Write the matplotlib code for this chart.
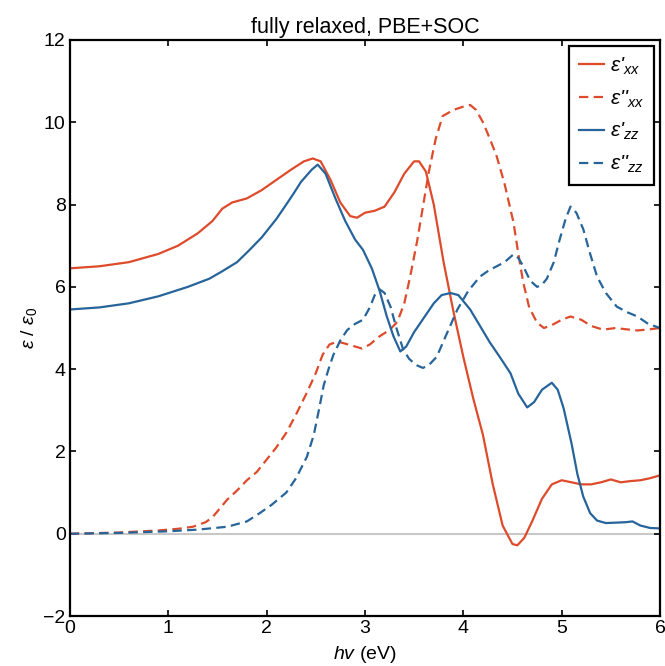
import matplotlib
matplotlib.use("Agg")
import matplotlib.pyplot as plt

plt.rcParams["font.family"] = ["Liberation Sans", "DejaVu Sans"]
plt.rcParams["mathtext.fontset"] = "custom"
plt.rcParams["mathtext.it"] = "Liberation Sans:italic"
plt.rcParams["mathtext.rm"] = "Liberation Sans"
plt.rcParams["mathtext.bf"] = "Liberation Sans:bold"

# Dielectric function components vs photon energy (eV)
x_re_xx = [0, 0.3, 0.6, 0.9, 1.1, 1.3, 1.45, 1.55, 1.65, 1.8, 1.95, 2.1, 2.25, 2.38, 2.47,
           2.55, 2.65, 2.75, 2.85, 2.92, 3.0, 3.1, 3.2, 3.3, 3.4, 3.5, 3.55, 3.62, 3.7, 3.8,
           3.9, 4.0, 4.1, 4.2, 4.3, 4.4, 4.5, 4.55, 4.62, 4.7, 4.8, 4.9, 5.0, 5.1, 5.2, 5.3,
           5.4, 5.5, 5.6, 5.7, 5.8, 5.9, 6.0]
eps_re_xx = [6.45, 6.5, 6.6, 6.8, 7.0, 7.3, 7.6, 7.9, 8.05, 8.15, 8.35, 8.6, 8.85, 9.05, 9.12,
             9.05, 8.6, 8.05, 7.72, 7.68, 7.8, 7.85, 7.95, 8.3, 8.75, 9.05, 9.05, 8.8, 8.0, 6.6,
             5.4, 4.3, 3.3, 2.4, 1.2, 0.2, -0.25, -0.28, -0.1, 0.3, 0.85, 1.2, 1.3, 1.25, 1.2, 1.2,
             1.25, 1.32, 1.25, 1.28, 1.3, 1.35, 1.42]

x_im_xx = [0, 0.5, 0.9, 1.1, 1.25, 1.38, 1.45, 1.52, 1.6, 1.7, 1.8, 1.9, 2.0, 2.1, 2.2, 2.3,
           2.41, 2.5, 2.57, 2.64, 2.72, 2.8, 2.9, 2.97, 3.05, 3.15, 3.25, 3.33, 3.4, 3.46, 3.53,
           3.59, 3.65, 3.72, 3.79, 3.9, 4.0, 4.07, 4.13, 4.2, 4.27, 4.34, 4.42, 4.51, 4.56, 4.61,
           4.67, 4.75, 4.82, 4.9, 5.0, 5.09, 5.2, 5.3, 5.42, 5.55, 5.65, 5.77, 5.9, 6.0]
eps_im_xx = [0.0, 0.03, 0.08, 0.12, 0.17, 0.28, 0.4, 0.6, 0.83, 1.05, 1.3, 1.5, 1.8, 2.1, 2.45, 2.9,
             3.43, 3.9, 4.35, 4.6, 4.67, 4.62, 4.55, 4.5, 4.6, 4.8, 4.95, 5.15, 5.6, 6.25, 7.1,
             7.95, 8.8, 9.6, 10.15, 10.3, 10.38, 10.42, 10.3, 10.0, 9.6, 9.17, 8.5, 7.57, 6.8, 6.1,
             5.5, 5.13, 5.0, 5.07, 5.2, 5.28, 5.2, 5.05, 4.96, 5.0, 4.97, 4.94, 4.97, 5.0]

x_re_zz = [0, 0.3, 0.6, 0.9, 1.2, 1.42, 1.55, 1.7, 1.82, 1.95, 2.1, 2.2, 2.27, 2.35, 2.46, 2.52,
           2.6, 2.7, 2.8, 2.9, 2.98, 3.07, 3.15, 3.22, 3.29, 3.36, 3.42, 3.5, 3.6, 3.7, 3.78,
           3.87, 3.95, 4.07, 4.17, 4.27, 4.37, 4.48, 4.56, 4.65, 4.72, 4.8, 4.9, 4.96, 5.02, 5.1,
           5.16, 5.22, 5.29, 5.36, 5.45, 5.55, 5.65, 5.72, 5.8, 5.9, 6.0]
eps_re_zz = [5.45, 5.5, 5.6, 5.77, 6.0, 6.2, 6.38, 6.6, 6.88, 7.2, 7.65, 8.0, 8.25, 8.55, 8.85, 8.97,
             8.75, 8.15, 7.6, 7.15, 6.9, 6.45, 5.9, 5.3, 4.8, 4.43, 4.55, 4.9, 5.25, 5.6, 5.8,
             5.85, 5.8, 5.45, 5.05, 4.65, 4.3, 3.9, 3.4, 3.07, 3.2, 3.5, 3.67, 3.5, 3.05, 2.2,
             1.45, 0.9, 0.5, 0.32, 0.26, 0.27, 0.28, 0.3, 0.2, 0.14, 0.13]

x_im_zz = [0, 0.5, 1.0, 1.3, 1.6, 1.8, 1.93, 2.05, 2.2, 2.3, 2.41, 2.48, 2.54, 2.58, 2.63, 2.68,
           2.75, 2.82, 2.9, 2.98, 3.05, 3.1, 3.15, 3.2, 3.26, 3.32, 3.39, 3.45, 3.52, 3.59, 3.65,
           3.73, 3.83, 3.94, 4.05, 4.17, 4.26, 4.34, 4.42, 4.51, 4.56, 4.61, 4.68, 4.75, 4.8, 4.85,
           4.92, 4.98, 5.04, 5.09, 5.15, 5.22, 5.29, 5.36, 5.45, 5.56, 5.67, 5.77, 5.88, 6.0]
eps_im_zz = [0.0, 0.02, 0.06, 0.1, 0.17, 0.3, 0.5, 0.7, 1.0, 1.35, 1.87, 2.4, 3.1, 3.6, 4.0, 4.35,
             4.7, 4.95, 5.1, 5.2, 5.5, 5.8, 5.94, 5.85, 5.52, 5.0, 4.47, 4.25, 4.1, 4.03, 4.1,
             4.3, 4.85, 5.45, 5.9, 6.25, 6.4, 6.5, 6.6, 6.79, 6.7, 6.5, 6.15, 6.0, 6.05, 6.2,
             6.6, 7.15, 7.65, 7.95, 7.8, 7.4, 6.8, 6.25, 5.85, 5.52, 5.38, 5.28, 5.1, 5.0]

x_ticks = [0, 1, 2, 3, 4, 5, 6]
y_ticks = [-2, 0, 2, 4, 6, 8, 10, 12]

RED = "#DE4B2B"
BLUE = "#26649A"

fig = plt.figure(figsize=(6.65, 6.66), dpi=100)
ax = fig.add_axes([0.105, 0.075, 0.8875, 0.865])

ax.axhline(0, color="#C8C8C8", lw=1.5, zorder=1)

dash = (4.2, 2.4)
ax.plot(x_re_xx, eps_re_xx, color=RED, lw=1.6, label="\u03b5'$_{xx}$")
ax.plot(x_im_xx, eps_im_xx, color=RED, lw=1.6, dashes=dash, label="\u03b5''$_{xx}$")
ax.plot(x_re_zz, eps_re_zz, color=BLUE, lw=1.6, label="\u03b5'$_{zz}$")
ax.plot(x_im_zz, eps_im_zz, color=BLUE, lw=1.6, dashes=dash, label="\u03b5''$_{zz}$")

ax.set_xlim(0, 6)
ax.set_ylim(-2, 12)
ax.set_xticks(x_ticks)
ax.set_yticks(y_ticks)
ax.set_yticklabels(["\u22122" if t < 0 else str(t) for t in y_ticks])
ax.tick_params(direction="in", top=True, right=True, length=4, width=1.2,
               labelsize=14, pad=3)
for s in ax.spines.values():
    s.set_linewidth(1.6)

ax.set_xlabel(r"$hv$ (eV)", fontsize=14, labelpad=5)
ax.set_ylabel(r"$\varepsilon$ / $\varepsilon_0$", fontsize=14)
ax.yaxis.set_label_coords(-0.053, 0.5)
ax.set_title("fully relaxed, PBE+SOC", fontsize=15.5, pad=5)

leg = ax.legend(loc="upper right", prop={"size": 15, "style": "italic"},
                handlelength=1.2, handletextpad=0.3,
                borderaxespad=0.3, fancybox=False, framealpha=1, edgecolor="black",
                labelspacing=0.55, borderpad=0.45)
leg.get_frame().set_linewidth(1.6)

fig.savefig("out.png", dpi=100)
